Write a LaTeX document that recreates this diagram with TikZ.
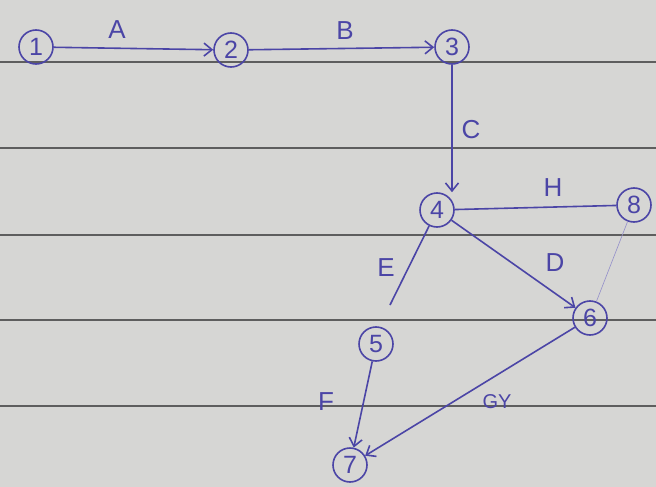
\documentclass[tikz,border=0pt]{standalone}
\usepackage{fontspec}
\setmainfont{Liberation Sans}
\usetikzlibrary{arrows.meta}
\definecolor{ink}{HTML}{4B45A6}
\definecolor{paper}{HTML}{D6D6D4}
\definecolor{rule}{HTML}{5E5E5E}
\begin{document}
\begin{tikzpicture}[x=1pt,y=-1pt,
  ev/.style={circle,draw=ink,line width=1.6pt,text=ink,inner sep=0pt,minimum size=34pt,font=\fontsize{25}{25}\selectfont},
  act/.style={draw=ink,line width=1.6pt,-{Straight Barb[length=8pt,width=13pt,line width=1.6pt]}},
  lnk/.style={draw=ink,line width=1.6pt},
  lab/.style={text=ink,font=\fontsize{26}{26}\selectfont}]
\fill[paper] (0,0) rectangle (656,487);
\useasboundingbox (0,0) rectangle (656,487);
\foreach \yy in {62,148,235,320,406}
  \draw[rule,line width=1.3pt] (0,\yy) -- (656,\yy);
\node[ev] (n1) at (36,47) {1};
\node[ev] (n2) at (231,50) {2};
\node[ev] (n3) at (452,47) {3};
\node[ev] (n4) at (437,210) {4};
\node[ev] (n8) at (634,205) {8};
\node[ev] (n5) at (376,344) {5};
\node[ev] (n6) at (590,318) {6};
\node[ev] (n7) at (350,465) {7};
\draw[act] (n1) -- (n2);
\draw[act] (n2) -- (n3);
\draw[act] (n3.south) -- (n3.south |- n4.north);
\draw[lnk] (n4) -- (n8);
\draw[act] (n4) -- (n6);
\draw[ink!60,line width=0.6pt] (n8) -- (n6);
\coordinate (e5) at (390,305);
\draw[lnk] (n4) -- (e5);
\draw[act] (n5) -- (n7);
\draw[act] (n6) -- (n7);
\node[lab] (lA) at (117,30) {A};
\node[lab] (lB) at (345,31) {B};
\node[lab] (lC) at (471,130) {C};
\node[lab] (lH) at (553,188) {H};
\node[lab] (lD) at (555,263) {D};
\node[lab] (lE) at (386,268) {E};
\node[lab] (lF) at (326,402) {F};
\node[lab,font=\fontsize{20}{20}\selectfont] (lG) at (497,402) {GY};
\end{tikzpicture}
\end{document}
